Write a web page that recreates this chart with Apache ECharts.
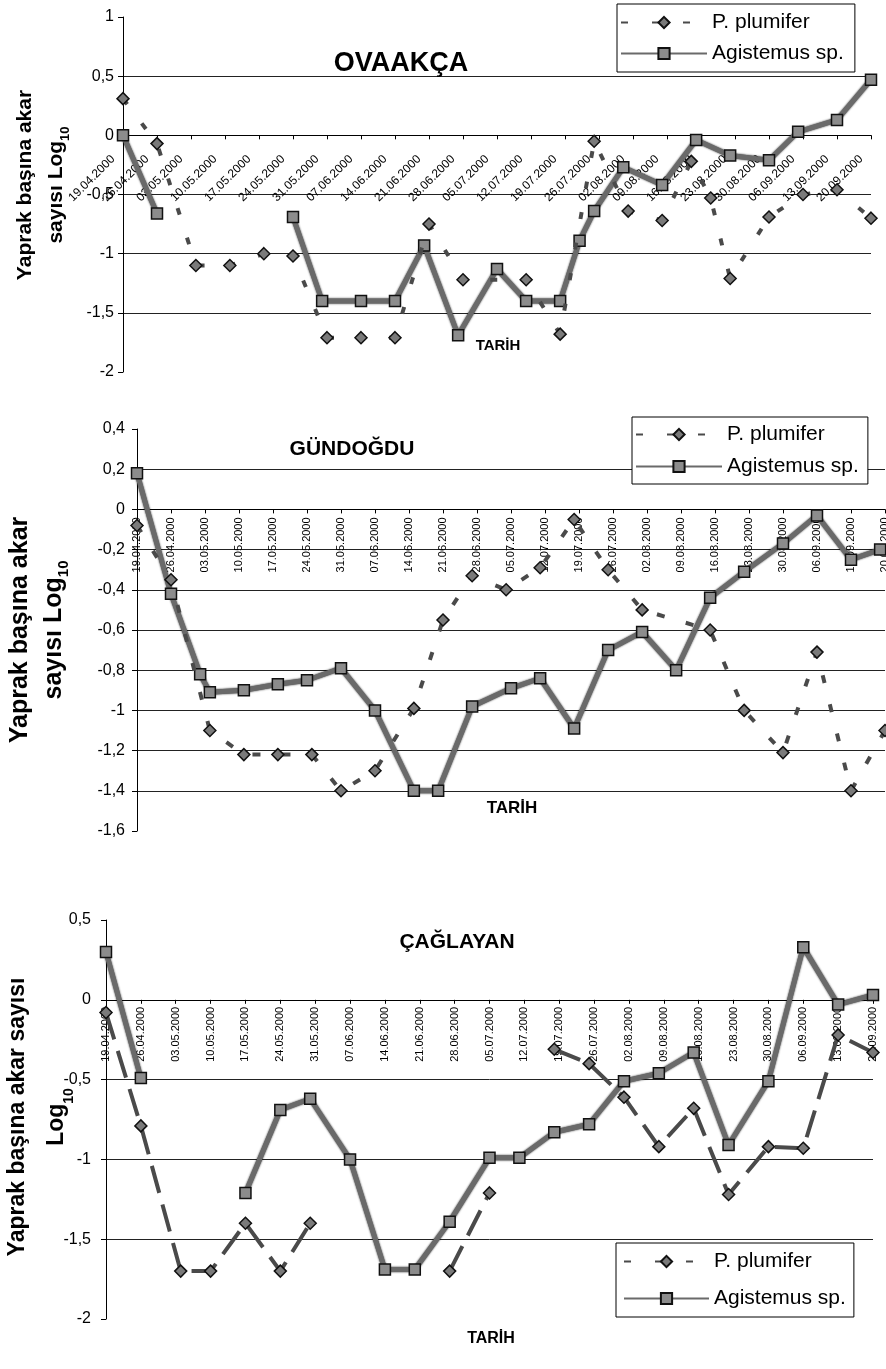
<!DOCTYPE html>
<html>
<head>
<meta charset="utf-8">
<script src="https://cdn.jsdelivr.net/npm/echarts/dist/echarts.min.js"></script>
<style>html,body{margin:0;padding:0;background:#fff}#c{width:886px;height:1369px}</style>
</head>
<body>
<div id="c"></div>
<script>
// ---------- DATA ----------
const tickDates = ['19.04.2000','26.04.2000','03.05.2000','10.05.2000','17.05.2000','24.05.2000','31.05.2000',
  '07.06.2000','14.06.2000','21.06.2000','28.06.2000','05.07.2000','12.07.2000','19.07.2000','26.07.2000',
  '02.08.2000','09.08.2000','16.08.2000','23.08.2000','30.08.2000','06.09.2000','13.09.2000','20.09.2000'];

const seriesNames = ['P. plumifer', 'Agistemus sp.'];
const panelTitles = ['OVAAKÇA', 'GÜNDOĞDU', 'ÇAĞLAYAN'];

// OVAAKÇA
const ovaAgisDates = ['19.04','26.04','10.05','24.05','30.05','07.06','14.06','20.06','27.06','05.07','11.07','18.07','22.07','25.07','31.07','08.08','15.08','22.08','30.08','05.09','13.09','20.09'];
const ovaAgis = [0,-0.66,null,-0.69,-1.40,-1.40,-1.40,-0.93,-1.69,-1.13,-1.40,-1.40,-0.89,-0.64,-0.27,-0.42,-0.04,-0.17,-0.21,0.03,0.13,0.47];
const ovaPlumDates = ['19.04','26.04','04.05','11.05','18.05','24.05','31.05','07.06','14.06','21.06','28.06','11.07','18.07','25.07','01.08','08.08','14.08','18.08','22.08','30.08','06.09','13.09','20.09'];
const ovaPlum = [0.31,-0.07,-1.10,-1.10,-1.00,-1.02,-1.71,-1.71,-1.71,-0.75,-1.22,-1.22,-1.68,-0.05,-0.64,-0.72,-0.22,-0.53,-1.21,-0.69,-0.50,-0.46,-0.70];

// GÜNDOĞDU
const gunAgisDates = ['19.04','26.04','02.05','04.05','11.05','18.05','24.05','31.05','07.06','15.06','20.06','27.06','05.07','11.07','18.07','25.07','01.08','08.08','15.08','22.08','30.08','06.09','13.09','19.09'];
const gunAgis = [0.18,-0.42,-0.82,-0.91,-0.90,-0.87,-0.85,-0.79,-1.00,-1.40,-1.40,-0.98,-0.89,-0.84,-1.09,-0.70,-0.61,-0.80,-0.44,-0.31,-0.17,-0.03,-0.25,-0.20];
const gunPlumDates = ['19.04','26.04','04.05','11.05','18.05','25.05','31.05','07.06','15.06','21.06','27.06','04.07','11.07','18.07','25.07','01.08','15.08','22.08','30.08','06.09','13.09','20.09'];
const gunPlum = [-0.08,-0.35,-1.10,-1.22,-1.22,-1.22,-1.40,-1.30,-0.99,-0.55,-0.33,-0.40,-0.29,-0.05,-0.30,-0.50,-0.60,-1.00,-1.21,-0.71,-1.40,-1.10];

// ÇAĞLAYAN
const cagAgisDates = ['19.04','26.04','03.05','17.05','24.05','30.05','07.06','14.06','20.06','27.06','05.07','11.07','18.07','25.07','01.08','08.08','15.08','22.08','30.08','06.09','13.09','20.09'];
const cagAgis = [0.30,-0.49,null,-1.21,-0.69,-0.62,-1.00,-1.69,-1.69,-1.39,-0.99,-0.99,-0.83,-0.78,-0.51,-0.46,-0.33,-0.91,-0.51,0.33,-0.03,0.03];
const cagPlumDates = ['19.04','26.04','04.05','10.05','17.05','24.05','30.05','14.06','27.06','05.07','12.07','18.07','25.07','01.08','08.08','15.08','22.08','30.08','06.09','13.09','20.09'];
const cagPlum = [-0.08,-0.79,-1.70,-1.70,-1.40,-1.70,-1.40,null,-1.70,-1.21,null,-0.31,-0.40,-0.61,-0.92,-0.68,-1.22,-0.92,-0.93,-0.22,-0.33];

// ---------- HELPERS ----------
const FONT = '"Liberation Sans", Arial, sans-serif';
const START = Date.UTC(2000, 3, 19);
function dayOf(s) { const p = s.split('.'); return Math.round((Date.UTC(2000, +p[1] - 1, +p[0]) - START) / 86400000); }
function pts(dates, vals) { return dates.map((d, i) => [dayOf(d), vals[i] === null ? '-' : vals[i]]); }
function xFmt(v) { return (v % 7 === 0 && tickDates[v / 7]) ? tickDates[v / 7] : ''; }
function yFmt(v) { const r = Math.round(v * 10) / 10; return (r === 0 ? '0' : String(r)).replace('.', ','); }

const grids = [
  { left: 123, top: 17, width: 748, height: 355 },
  { left: 137, top: 429, width: 748, height: 402 },
  { left: 106, top: 920, width: 767, height: 399 }
];
const yRanges = [[-2, 1, 0.5], [-1.6, 0.4, 0.2], [-2, 0.5, 0.5]];

// x axis drawn through the zero line of its own y axis (offset from the grid bottom)
function zeroOffset(i) { const r = yRanges[i]; return -grids[i].height * (0 - r[0]) / (r[1] - r[0]); }

function mkX(i, rot, margin, fs, pad) {
  return {
    type: 'value', gridIndex: i, min: 0, max: 154, interval: 7, position: 'bottom', offset: zeroOffset(i),
    axisLine: { show: true, onZero: false, lineStyle: { color: '#000', width: 1 } },
    axisTick: { show: true, length: 4, lineStyle: { color: '#000' } },
    axisLabel: { rotate: rot, margin: margin, padding: pad, fontSize: fs, color: '#000', fontFamily: FONT, formatter: xFmt, showMinLabel: true, showMaxLabel: true },
    splitLine: { show: false }
  };
}
function mkY(i, margin) {
  const r = yRanges[i];
  return {
    type: 'value', gridIndex: i, min: r[0], max: r[1], interval: r[2],
    axisLine: { show: true, onZero: false, lineStyle: { color: '#000', width: 1 } },
    axisTick: { show: true, length: 5, lineStyle: { color: '#000' } },
    axisLabel: { margin: margin, fontSize: 16, color: '#000', fontFamily: FONT, formatter: yFmt },
    splitLine: { show: true, showMinLine: false, showMaxLine: false, lineStyle: { color: '#222', width: 1 } }
  };
}
function agisSeries(i, data) {
  return {
    name: seriesNames[1], type: 'line', xAxisIndex: i, yAxisIndex: i, data: data, connectNulls: false,
    symbol: 'rect', symbolSize: 11, z: 3,
    lineStyle: { color: '#6a6a6a', width: 5, shadowColor: 'rgba(0,0,0,0.9)', shadowBlur: 2 },
    itemStyle: { color: '#8c8c8c', borderColor: '#111', borderWidth: 1.5 }
  };
}
function plumSeries(i, data, dash) {
  return {
    name: seriesNames[0], type: 'line', xAxisIndex: i, yAxisIndex: i, data: data, connectNulls: false,
    symbol: 'diamond', symbolSize: 12, z: 4,
    lineStyle: { color: '#4a4a4a', width: 4, type: dash },
    itemStyle: { color: '#7a7a7a', borderColor: '#111', borderWidth: 1.5 }
  };
}
function mkLegend(left, top, pad, gap, iw) {
  return {
    show: true, orient: 'vertical', left: left, top: top, data: seriesNames,
    itemWidth: iw, itemHeight: 14, itemGap: gap, padding: pad,
    borderColor: '#000', borderWidth: 1, borderRadius: 0, backgroundColor: '#fff',
    selectedMode: false, z: 10,
    textStyle: { fontSize: 21, lineHeight: 25, color: '#000', fontFamily: FONT }
  };
}
function txt(x, y, text, size, weight) {
  return {
    type: 'text', x: x, y: y, z: 20,
    style: { text: text, fontSize: size, fontWeight: weight, fontFamily: FONT, fill: '#000', align: 'center', verticalAlign: 'middle' }
  };
}
function yName(x, y, text, size, lh) {
  return {
    type: 'text', x: x, y: y, rotation: Math.PI / 2, z: 20,
    style: {
      text: text, fontSize: size, fontWeight: 'bold', fontFamily: FONT, fill: '#000',
      align: 'center', verticalAlign: 'middle', lineHeight: lh,
      rich: { s: { fontSize: Math.round(size * 0.6), fontWeight: 'bold', fontFamily: FONT, fill: '#000', lineHeight: lh - 10, verticalAlign: 'bottom' } }
    }
  };
}

// ---------- CHART ----------
const chart = echarts.init(document.getElementById('c'), null, { renderer: 'canvas' });
const option = {
  animation: false,
  backgroundColor: '#fff',
  textStyle: { fontFamily: FONT },
  grid: grids.map(g => Object.assign({ containLabel: false, outerBoundsMode: 'none' }, g)),
  xAxis: [ mkX(0, 45, 12, 12, [0, 14, 0, 0]), mkX(1, 90, 8, 11, 0), mkX(2, 90, 7, 11, 0) ],
  yAxis: [ mkY(0, 9), mkY(1, 12), mkY(2, 15) ],
  legend: [
    mkLegend(617, 4, [6, 11, 6, 3], 6, 86),
    mkLegend(632, 417, [5, 9, 5, 3], 7, 86),
    mkLegend(616, 1243, [6, 8, 6, 7], 12, 85)
  ],
  series: [
    agisSeries(0, pts(ovaAgisDates, ovaAgis)),
    plumSeries(0, pts(ovaPlumDates, ovaPlum), [7, 24]),
    agisSeries(1, pts(gunAgisDates, gunAgis)),
    plumSeries(1, pts(gunPlumDates, gunPlum), [8, 22]),
    agisSeries(2, pts(cagAgisDates, cagAgis)),
    plumSeries(2, pts(cagPlumDates, cagPlum), [28, 12])
  ],
  graphic: [
    txt(401, 64, panelTitles[0], 27, 'bold'),
    txt(352, 449, panelTitles[1], 21, 'bold'),
    txt(457, 942, panelTitles[2], 21, 'bold'),
    txt(498, 346, 'TARİH', 15, 'bold'),
    txt(512, 808, 'TARİH', 17, 'bold'),
    txt(491, 1339, 'TARİH', 16, 'bold'),
    yName(41, 185, 'Yaprak başına akar\nsayısı Log{s|10}', 21, 31),
    yName(37, 630, 'Yaprak başına akar\nsayısı Log{s|10}', 25, 34),
    yName(37, 1117, 'Yaprak başına akar sayısı\nLog{s|10}', 23, 39)
  ]
};
chart.setOption(option);
</script>
</body>
</html>
